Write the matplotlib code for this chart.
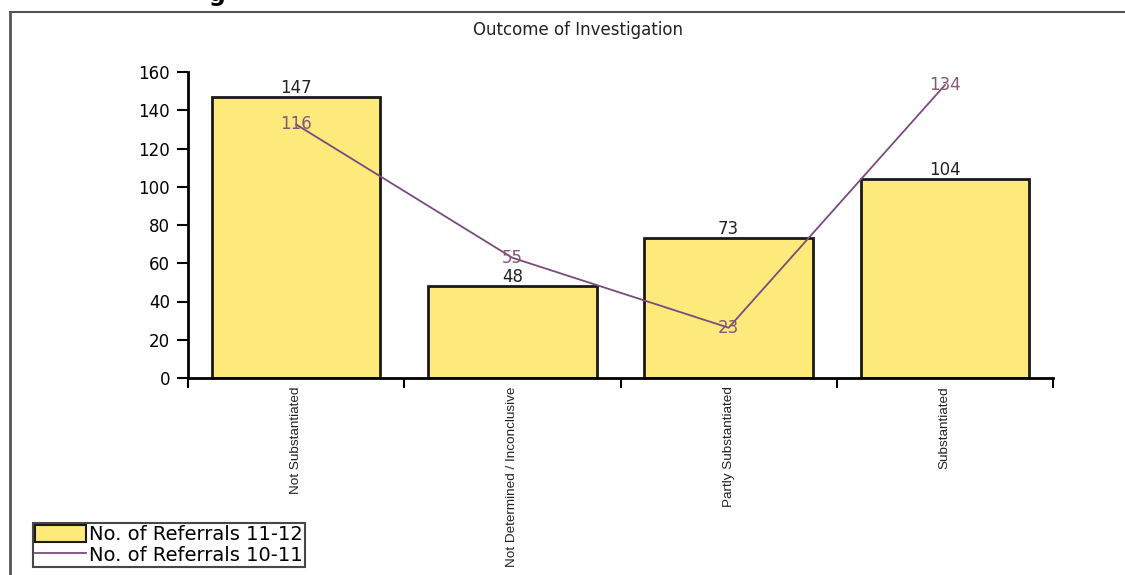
import numpy as np
import matplotlib
matplotlib.use('Agg')
import matplotlib.pyplot as plt
from matplotlib.lines import Line2D
from matplotlib.patches import Patch

categories = ['Not Substantiated', 'Not Determined / Inconclusive',
              'Partly Substantiated', 'Substantiated']
referrals_11_12 = [147, 48, 73, 104]
referrals_10_11 = [116, 55, 23, 134]

bar_color = '#FDEA7A'
line_color = '#7B4A7E'
label_color = '#845878'

plt.rcParams['font.family'] = ['DejaVu Sans']

fig = plt.figure(figsize=(11.25, 5.75), dpi=100)
ax = fig.add_axes([188/1125, 1-378/575, (1053-188)/1125, (378-72)/575])

x = np.arange(len(categories))
bars = ax.bar(x, referrals_11_12, width=0.78, color=bar_color,
              edgecolor='#1a1a1a', linewidth=2, zorder=2)
ax.bar_label(bars, padding=0, fontsize=12, color='#222222')

ax.set_xlim(-0.5, len(categories) - 0.5)
ax.set_ylim(0, 160)
ax.set_yticks(np.arange(0, 161, 20))
ax.tick_params(axis='y', length=8, width=1.5, pad=5, labelsize=12)
ax.set_xticks(x, categories, rotation=90, fontsize=9.7, color='#222222',
              fontfamily='Liberation Sans')
ax.tick_params(axis='x', length=0, pad=6)
ax.set_xticks(np.arange(-0.5, len(categories)), minor=True)
ax.tick_params(axis='x', which='minor', length=7, width=1.5)
for s in ['top', 'right']:
    ax.spines[s].set_visible(False)
for s in ['left', 'bottom']:
    ax.spines[s].set_linewidth(2)

# line series sits on its own (hidden) scale
ax2 = ax.twinx()
ax2.set_ylim(0, 140)
ax2.axis('off')
ax2.plot(x, referrals_10_11, color=line_color, linewidth=1.3, zorder=3)
for xi, v in zip(x, referrals_10_11):
    ax2.text(xi, v, str(v), ha='center', va='center', fontsize=12,
             color=label_color)

fig.text(0.514, 1-30/575, 'Outcome of Investigation', ha='center',
         va='center', fontsize=12, color='#222222')

# cut-off heading above the frame
fig.text(217/1125, 1 - 1/575, 'g', ha='center', va='baseline',
         fontsize=17, fontweight='bold')

# outer frame
fig.add_artist(Line2D([10/1125, 1], [1-12/575, 1-12/575], color='#555555',
                      linewidth=1.5))
fig.add_artist(Line2D([10/1125, 10/1125], [0, 1-12/575], color='#555555',
                      linewidth=2))

handles = [Patch(facecolor=bar_color, edgecolor='#1a1a1a', linewidth=1.5),
           Line2D([], [], color=line_color, linewidth=1.3)]
fig.legend(handles, ['No. of Referrals 11-12', 'No. of Referrals 10-11'],
           loc='upper left', bbox_to_anchor=(33/1125, 1-523/575),
           fontsize=14, frameon=True, fancybox=False, edgecolor='#1a1a1a',
           borderpad=0.1, handlelength=2.6, handleheight=1.0,
           handletextpad=0.2, labelspacing=0.05, borderaxespad=0)\
    .get_frame().set_linewidth(1.5)

fig.savefig('out.png', dpi=100)
